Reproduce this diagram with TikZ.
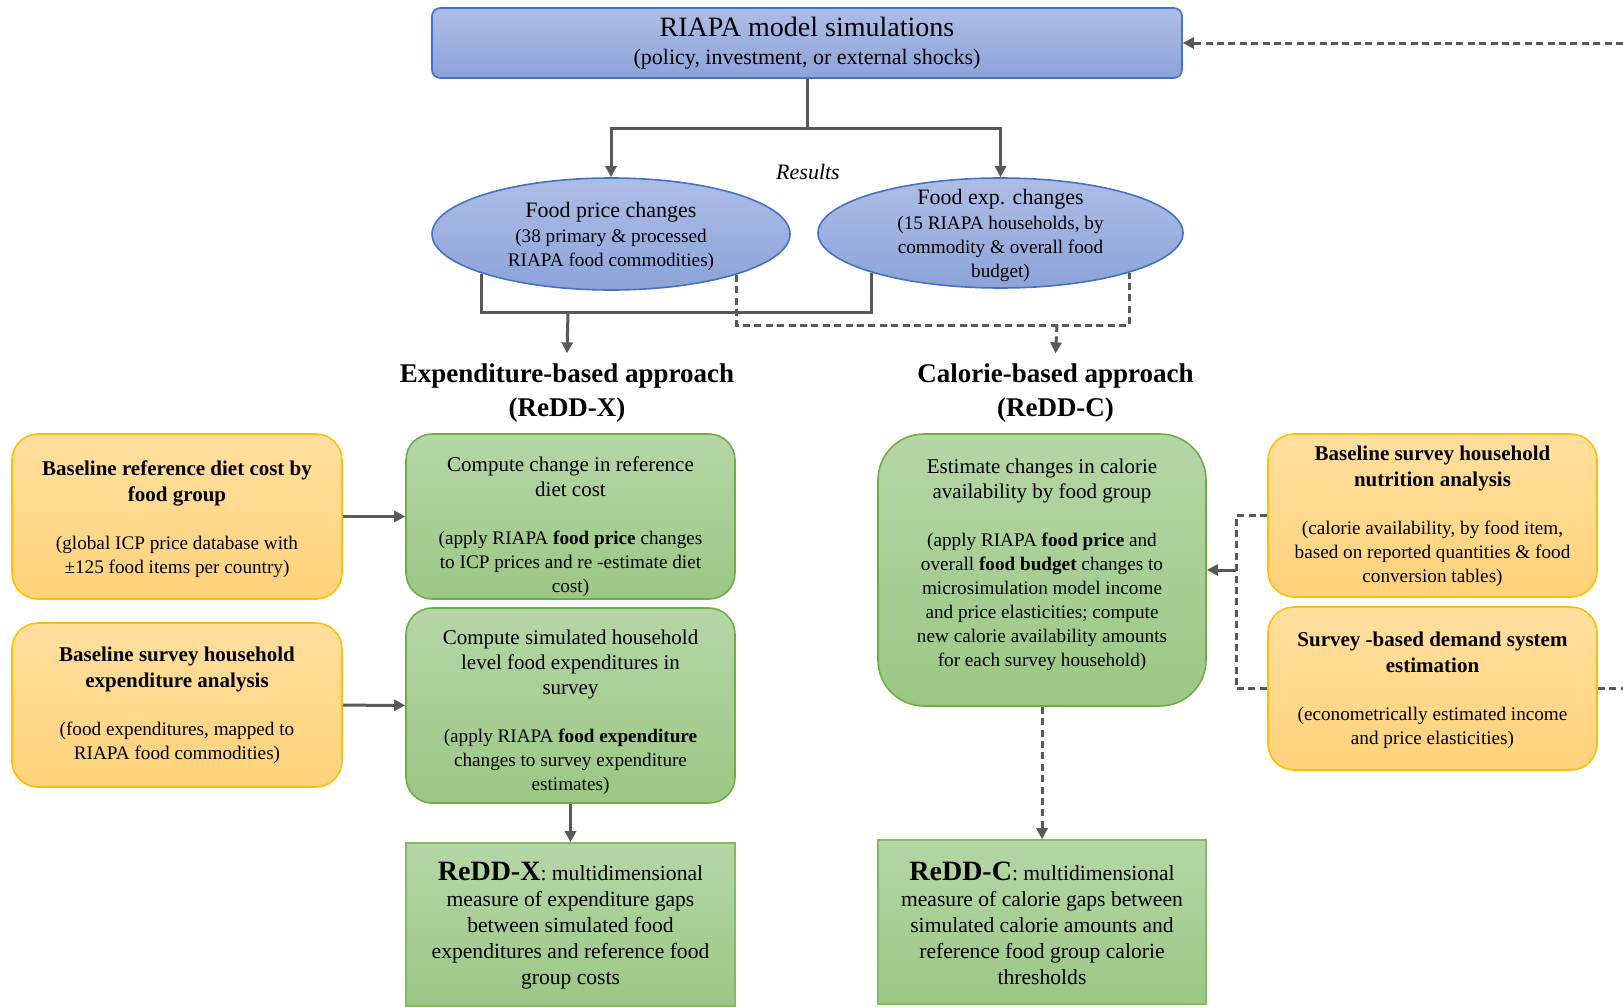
\documentclass[tikz,border=0pt]{standalone}
\usepackage{fontspec}
\setmainfont{Liberation Serif}
\usetikzlibrary{arrows.meta,shapes.geometric}
\definecolor{lineg}{HTML}{595959}
\definecolor{bluetop}{HTML}{AEBDE6}
\definecolor{bluebot}{HTML}{8CA3D9}
\definecolor{blueedge}{HTML}{4472C4}
\definecolor{greentop}{HTML}{B5D6A7}
\definecolor{greenbot}{HTML}{9BC784}
\definecolor{greenedge}{HTML}{70AD47}
\definecolor{orangetop}{HTML}{FFDF9F}
\definecolor{orangebot}{HTML}{FFD27A}
\definecolor{orangeedge}{HTML}{FFC000}
\begin{document}
\begin{tikzpicture}[x=0.5pt,y=-0.5pt,
  box/.style={draw, line width=0.8pt, inner sep=0pt, anchor=center},
  obox/.style={box, rounded corners=13pt, draw=orangeedge, top color=orangetop, bottom color=orangebot},
  gbox/.style={box, rounded corners=13pt, draw=greenedge, top color=greentop, bottom color=greenbot},
  rbox/.style={box, draw=greenedge!85, top color=greentop, bottom color=greenbot},
  bbox/.style={box, rounded corners=4pt, draw=blueedge, top color=bluetop, bottom color=bluebot},
  ebox/.style={ellipse, draw=blueedge, line width=0.8pt, top color=bluetop, bottom color=bluebot, inner sep=0pt},
  txt/.style={align=center, font=\fontsize{9.6}{12}\selectfont, inner sep=0pt},
  conn/.style={draw=lineg, line width=1.5pt},
  dconn/.style={conn, dash pattern=on 3.5pt off 2.2pt},
  arr/.style={-{Triangle[length=5.5pt,width=5.5pt]}}
]
\useasboundingbox (0,0) rectangle (1623,1007);

% boxes
\node[bbox, minimum width=375pt, minimum height=35pt] (top) at (807,43) {};
\node[ebox, minimum width=179pt, minimum height=56pt] (E1) at (611,234) {};
\node[ebox, minimum width=182.5pt, minimum height=55pt] (E2) at (1000.5,233) {};
\node[obox, minimum width=165pt, minimum height=82.5pt] (O1) at (177,516.5) {};
\node[obox, minimum width=165pt, minimum height=82pt] (O2) at (177,705) {};
\node[gbox, minimum width=164.5pt, minimum height=82.5pt] (G1) at (570.5,516.5) {};
\node[gbox, minimum width=164.5pt, minimum height=97.5pt] (G2) at (570.5,705.5) {};
\node[rbox, minimum width=164.5pt, minimum height=81.5pt] (R1) at (570.5,924.5) {};
\node[gbox, rounded corners=23pt, minimum width=164pt, minimum height=136pt] (G3) at (1042,570) {};
\node[rbox, minimum width=164pt, minimum height=82pt] (R2) at (1042,922) {};
\node[obox, minimum width=164.5pt, minimum height=81.5pt] (O3) at (1432.5,515.5) {};
\node[obox, minimum width=164.5pt, minimum height=81.5pt] (O4) at (1432.5,688.5) {};

% texts
\node[txt] (tTop) at (807,43) {{\fontsize{14}{15}\selectfont RIAPA model simulations}\\[2pt]{\fontsize{11}{12}\selectfont (policy, investment, or external shocks)}};
\node[txt, font=\itshape\fontsize{11}{12}\selectfont] (res) at (808,172) {Results};
\node[txt] (tE1) at (611,236) {{\fontsize{11}{12}\selectfont Food price changes}\\[0.5pt](38 primary \& processed\\RIAPA food commodities)};
\node[txt] (tE2) at (1000.5,235) {{\fontsize{11}{12}\selectfont Food exp. changes}\\[0.5pt](15 RIAPA households, by\\commodity \& overall food\\budget)};
\node[txt, font=\bfseries\fontsize{13.5}{17}\selectfont, inner sep=5pt] (hX) at (567,393) {Expenditure-based approach\\(ReDD-X)};
\node[txt, font=\bfseries\fontsize{13.5}{17}\selectfont, inner sep=5pt] (hC) at (1055.5,393) {Calorie-based approach\\(ReDD-C)};

\node[txt] (tO1) at (177,519) {{\bfseries\fontsize{10.5}{12}\selectfont Baseline reference diet cost by}\\[1pt]{\bfseries\fontsize{10.5}{12}\selectfont food group}\\[12pt](global ICP price database with\\±125 food items per country)};
\node[txt] (tO2) at (177,705.5) {{\bfseries\fontsize{10.5}{12}\selectfont Baseline survey household}\\[1pt]{\bfseries\fontsize{10.5}{12}\selectfont expenditure analysis}\\[12pt](food expenditures, mapped to\\RIAPA food commodities)};
\node[txt] (tG1) at (570.5,527) {{\fontsize{10.5}{12}\selectfont Compute change in reference}\\[0.5pt]{\fontsize{10.5}{12}\selectfont diet cost}\\[12pt](apply RIAPA \textbf{food price} changes\\to ICP prices and re -estimate diet\\cost)};
\node[txt] (tG2) at (570.5,712) {{\fontsize{10.5}{12}\selectfont Compute simulated household}\\[0.5pt]{\fontsize{10.5}{12}\selectfont level food expenditures in}\\[0.5pt]{\fontsize{10.5}{12}\selectfont survey}\\[12pt](apply RIAPA \textbf{food expenditure}\\changes to survey expenditure\\estimates)};
\node[txt, font=\fontsize{10.8}{13}\selectfont] (tR1) at (570.5,926) {{\bfseries\fontsize{14}{13}\selectfont ReDD-X}: multidimensional\\measure of expenditure gaps\\between simulated food\\expenditures and reference food\\group costs};
\node[txt] (tG3) at (1042,565) {{\fontsize{10.5}{12}\selectfont Estimate changes in calorie}\\[0.5pt]{\fontsize{10.5}{12}\selectfont availability by food group}\\[12pt](apply RIAPA \textbf{food price} and\\overall \textbf{food budget} changes to\\microsimulation model income\\and price elasticities; compute\\new calorie availability amounts\\for each survey household)};
\node[txt, font=\fontsize{10.8}{13}\selectfont] (tR2) at (1042,923.5) {{\bfseries\fontsize{14}{13}\selectfont ReDD-C}: multidimensional\\measure of calorie gaps between\\simulated calorie amounts and\\reference food group calorie\\thresholds};
\node[txt] (tO3) at (1432.5,516.5) {{\bfseries\fontsize{10.5}{12}\selectfont Baseline survey household}\\[1pt]{\bfseries\fontsize{10.5}{12}\selectfont nutrition analysis}\\[12pt](calorie availability, by food item,\\based on reported quantities \& food\\conversion tables)};
\node[txt] (tO4) at (1432.5,690.5) {{\bfseries\fontsize{10.5}{12}\selectfont Survey -based demand system}\\[1pt]{\bfseries\fontsize{10.5}{12}\selectfont estimation}\\[12pt](econometrically estimated income\\and price elasticities)};

% coordinates
\coordinate (j1) at (807,128);
\coordinate (jS) at (568,312);
\coordinate (jD) at (1057,325);
\coordinate (jB) at (1236,570);
\coordinate (eTop) at (1623,43);
\coordinate (eO4) at (1623,688.5);

% connectors
\draw[conn] (top.south) -- (j1);
\draw[conn,arr] (j1) -| (E1);
\draw[conn,arr] (j1) -| (E2);
\draw[conn] (E1.197) |- (jS) -| (E2.197);
\draw[conn,arr] (jS) -- (hX.north);
\draw[dconn] (E1.342.6) |- (jD) -| (E2.343.1);
\draw[dconn,arr] (jD) -- (hC.north);
\draw[conn,arr] (O1) -- (G1);
\draw[conn,arr] (O2) -- (G2);
\draw[conn,arr] (G2.south) -- (R1.north);
\draw[dconn,arr] (G3.south) -- (R2.north);
\draw[dconn] (O3.west) -| (jB) |- (O4.west);
\draw[conn,arr] (jB) -- (G3.east);
\draw[dconn] (O4.east) -- (eO4);
\draw[dconn,arr] (eTop) -- (top.east);
\end{tikzpicture}
\end{document}
